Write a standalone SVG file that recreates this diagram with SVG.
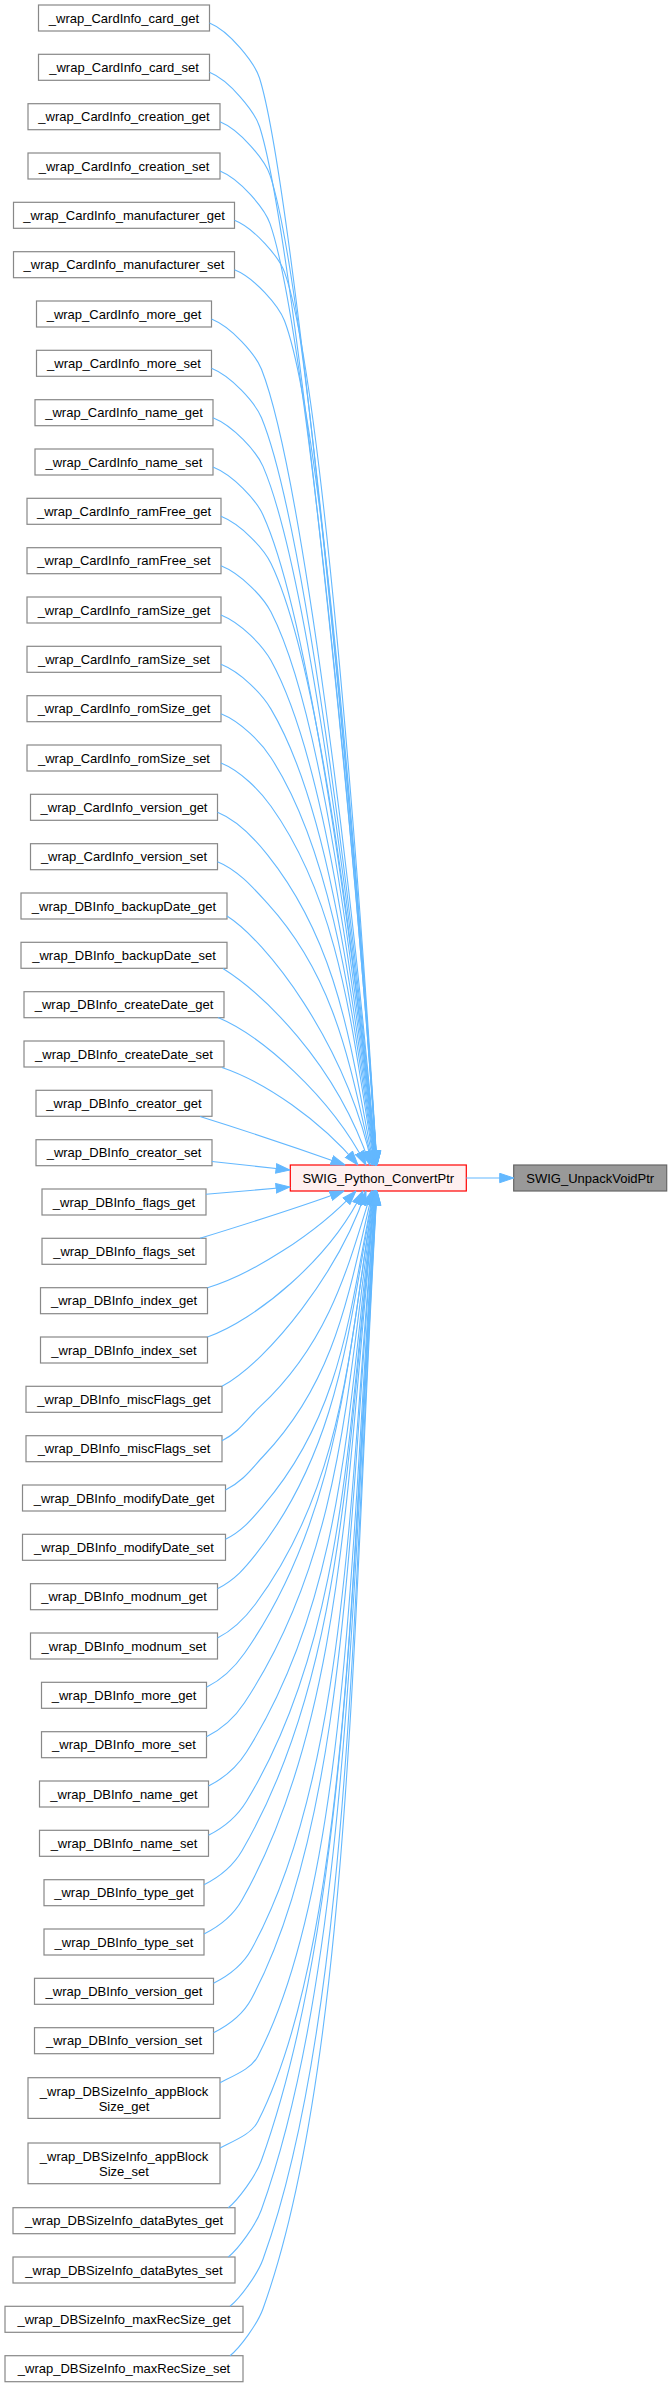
<svg xmlns="http://www.w3.org/2000/svg" width="672" height="2387" viewBox="0 0 672 2387">
<defs>
<style>
text{font-family:"Liberation Sans",Arial,Helvetica,sans-serif;font-size:13px;fill:#000000;text-anchor:middle}
.box{fill:#ffffff;stroke:#888888;stroke-width:1.2}
.cur{fill:#fff0f0;stroke:#ff0000;stroke-width:1.2}
.leaf{fill:#999999;stroke:#666666;stroke-width:1.2}
.e{fill:none;stroke:#63b8ff;stroke-width:1.1;marker-end:url(#ah)}
</style>
<marker id="ah" markerUnits="userSpaceOnUse" markerWidth="15" markerHeight="11" viewBox="0 0 15 11" refX="14.5" refY="5.5" orient="auto">
<path d="M0.5,0.8 L14.5,5.5 L0.5,10.2 z" fill="#63b8ff" stroke="#63b8ff" stroke-width="1"/>
</marker>
</defs>
<rect width="672" height="2387" fill="#ffffff"/>
<g id="n1"><rect class="box" x="38.5" y="5" width="171" height="26"/><text x="124" y="22.5">_wrap_CardInfo_card_get</text></g>
<g id="n2"><rect class="box" x="38.5" y="54.3" width="171" height="26"/><text x="124" y="71.8">_wrap_CardInfo_card_set</text></g>
<g id="n3"><rect class="box" x="28" y="103.7" width="192" height="26"/><text x="124" y="121.2">_wrap_CardInfo_creation_get</text></g>
<g id="n4"><rect class="box" x="28" y="153" width="192" height="26"/><text x="124" y="170.5">_wrap_CardInfo_creation_set</text></g>
<g id="n5"><rect class="box" x="13.5" y="202.3" width="221" height="26"/><text x="124" y="219.8">_wrap_CardInfo_manufacturer_get</text></g>
<g id="n6"><rect class="box" x="13.5" y="251.7" width="221" height="26"/><text x="124" y="269.2">_wrap_CardInfo_manufacturer_set</text></g>
<g id="n7"><rect class="box" x="36.5" y="301" width="175" height="26"/><text x="124" y="318.5">_wrap_CardInfo_more_get</text></g>
<g id="n8"><rect class="box" x="36.5" y="350.3" width="175" height="26"/><text x="124" y="367.8">_wrap_CardInfo_more_set</text></g>
<g id="n9"><rect class="box" x="35" y="399.7" width="178" height="26"/><text x="124" y="417.2">_wrap_CardInfo_name_get</text></g>
<g id="n10"><rect class="box" x="35" y="449" width="178" height="26"/><text x="124" y="466.5">_wrap_CardInfo_name_set</text></g>
<g id="n11"><rect class="box" x="27" y="498.3" width="194" height="26"/><text x="124" y="515.8">_wrap_CardInfo_ramFree_get</text></g>
<g id="n12"><rect class="box" x="27" y="547.7" width="194" height="26"/><text x="124" y="565.2">_wrap_CardInfo_ramFree_set</text></g>
<g id="n13"><rect class="box" x="27" y="597" width="194" height="26"/><text x="124" y="614.5">_wrap_CardInfo_ramSize_get</text></g>
<g id="n14"><rect class="box" x="27" y="646.3" width="194" height="26"/><text x="124" y="663.8">_wrap_CardInfo_ramSize_set</text></g>
<g id="n15"><rect class="box" x="27" y="695.7" width="194" height="26"/><text x="124" y="713.2">_wrap_CardInfo_romSize_get</text></g>
<g id="n16"><rect class="box" x="27" y="745" width="194" height="26"/><text x="124" y="762.5">_wrap_CardInfo_romSize_set</text></g>
<g id="n17"><rect class="box" x="30.5" y="794.3" width="187" height="26"/><text x="124" y="811.8">_wrap_CardInfo_version_get</text></g>
<g id="n18"><rect class="box" x="30.5" y="843.7" width="187" height="26"/><text x="124" y="861.2">_wrap_CardInfo_version_set</text></g>
<g id="n19"><rect class="box" x="21" y="893" width="206" height="26"/><text x="124" y="910.5">_wrap_DBInfo_backupDate_get</text></g>
<g id="n20"><rect class="box" x="21" y="942.3" width="206" height="26"/><text x="124" y="959.8">_wrap_DBInfo_backupDate_set</text></g>
<g id="n21"><rect class="box" x="24" y="991.7" width="200" height="26"/><text x="124" y="1009.2">_wrap_DBInfo_createDate_get</text></g>
<g id="n22"><rect class="box" x="24" y="1041" width="200" height="26"/><text x="124" y="1058.5">_wrap_DBInfo_createDate_set</text></g>
<g id="n23"><rect class="box" x="36" y="1090.3" width="176" height="26"/><text x="124" y="1107.8">_wrap_DBInfo_creator_get</text></g>
<g id="n24"><rect class="box" x="36" y="1139.7" width="176" height="26"/><text x="124" y="1157.2">_wrap_DBInfo_creator_set</text></g>
<g id="n25"><rect class="box" x="42" y="1189" width="164" height="26"/><text x="124" y="1206.5">_wrap_DBInfo_flags_get</text></g>
<g id="n26"><rect class="box" x="42" y="1238.3" width="164" height="26"/><text x="124" y="1255.8">_wrap_DBInfo_flags_set</text></g>
<g id="n27"><rect class="box" x="40.5" y="1287.7" width="167" height="26"/><text x="124" y="1305.2">_wrap_DBInfo_index_get</text></g>
<g id="n28"><rect class="box" x="40.5" y="1337" width="167" height="26"/><text x="124" y="1354.5">_wrap_DBInfo_index_set</text></g>
<g id="n29"><rect class="box" x="26" y="1386.3" width="196" height="26"/><text x="124" y="1403.8">_wrap_DBInfo_miscFlags_get</text></g>
<g id="n30"><rect class="box" x="26" y="1435.7" width="196" height="26"/><text x="124" y="1453.2">_wrap_DBInfo_miscFlags_set</text></g>
<g id="n31"><rect class="box" x="22.5" y="1485" width="203" height="26"/><text x="124" y="1502.5">_wrap_DBInfo_modifyDate_get</text></g>
<g id="n32"><rect class="box" x="22.5" y="1534.3" width="203" height="26"/><text x="124" y="1551.8">_wrap_DBInfo_modifyDate_set</text></g>
<g id="n33"><rect class="box" x="30.5" y="1583.7" width="187" height="26"/><text x="124" y="1601.2">_wrap_DBInfo_modnum_get</text></g>
<g id="n34"><rect class="box" x="30.5" y="1633" width="187" height="26"/><text x="124" y="1650.5">_wrap_DBInfo_modnum_set</text></g>
<g id="n35"><rect class="box" x="41.5" y="1682.3" width="165" height="26"/><text x="124" y="1699.8">_wrap_DBInfo_more_get</text></g>
<g id="n36"><rect class="box" x="41.5" y="1731.7" width="165" height="26"/><text x="124" y="1749.2">_wrap_DBInfo_more_set</text></g>
<g id="n37"><rect class="box" x="39.5" y="1781" width="169" height="26"/><text x="124" y="1798.5">_wrap_DBInfo_name_get</text></g>
<g id="n38"><rect class="box" x="39.5" y="1830.3" width="169" height="26"/><text x="124" y="1847.8">_wrap_DBInfo_name_set</text></g>
<g id="n39"><rect class="box" x="44" y="1879.7" width="160" height="26"/><text x="124" y="1897.2">_wrap_DBInfo_type_get</text></g>
<g id="n40"><rect class="box" x="44" y="1929" width="160" height="26"/><text x="124" y="1946.5">_wrap_DBInfo_type_set</text></g>
<g id="n41"><rect class="box" x="34.5" y="1978.3" width="179" height="26"/><text x="124" y="1995.8">_wrap_DBInfo_version_get</text></g>
<g id="n42"><rect class="box" x="34.5" y="2027.7" width="179" height="26"/><text x="124" y="2045.2">_wrap_DBInfo_version_set</text></g>
<g id="n43"><rect class="box" x="28" y="2077.7" width="192" height="40.7"/><text x="124" y="2095.5">_wrap_DBSizeInfo_appBlock</text><text x="124" y="2110.5">Size_get</text></g>
<g id="n44"><rect class="box" x="28" y="2143" width="192" height="40.7"/><text x="124" y="2160.8">_wrap_DBSizeInfo_appBlock</text><text x="124" y="2175.8">Size_set</text></g>
<g id="n45"><rect class="box" x="13" y="2207.7" width="222" height="26"/><text x="124" y="2225.2">_wrap_DBSizeInfo_dataBytes_get</text></g>
<g id="n46"><rect class="box" x="13" y="2257" width="222" height="26"/><text x="124" y="2274.5">_wrap_DBSizeInfo_dataBytes_set</text></g>
<g id="n47"><rect class="box" x="5" y="2306.3" width="238" height="26"/><text x="124" y="2323.8">_wrap_DBSizeInfo_maxRecSize_get</text></g>
<g id="n48"><rect class="box" x="5" y="2355.7" width="238" height="26"/><text x="124" y="2373.2">_wrap_DBSizeInfo_maxRecSize_set</text></g>
<g id="center"><rect class="cur" x="290.3" y="1165" width="176" height="26"/><text x="378.3" y="1182.5">SWIG_Python_ConvertPtr</text></g>
<g id="unpack"><rect class="leaf" x="513.7" y="1165" width="153" height="26"/><text x="590.2" y="1182.5">SWIG_UnpackVoidPtr</text></g>
<g id="edges">
<path class="e" d="M466.3,1178 L513.7,1178"/>
<path class="e" d="M209.5,23 C229.5,31 254.7,63 259.5,78 C291.3,178 352.2,784.5 376.9,1165"/>
<path class="e" d="M209.5,72.3 C229.5,80.3 254.6,111.5 259.5,126.5 C292.3,226.5 352.2,801.5 376.8,1165"/>
<path class="e" d="M220,121.7 C240,129.7 264.9,160.1 270,175.1 C303.9,275.1 354.4,818.5 376.9,1165"/>
<path class="e" d="M220,171 C240,179 264.75,208.6 270,223.6 C305,323.6 354.4,835.5 376.8,1165"/>
<path class="e" d="M234.5,220.3 C254.5,228.3 279.1,257.1 284.5,272.1 C320.8,372.1 357.6,852.5 377,1165"/>
<path class="e" d="M234.5,269.7 C254.5,277.7 278.8,305.8 284.5,320.8 C322.3,420.8 357.5,869.5 376.9,1165"/>
<path class="e" d="M211.5,319 C231.5,327 255.6,354.3 261.5,369.3 C300.9,469.3 352.3,886.5 376.4,1165"/>
<path class="e" d="M211.5,368.3 C231.5,376.3 255.3,402.8 261.5,417.8 C302.7,517.8 352.2,903.5 376.3,1165"/>
<path class="e" d="M213,417.7 C233,425.7 256.5,451.4 263,466.4 C306.2,566.4 352.4,920.5 376.2,1165"/>
<path class="e" d="M213,467 C233,475 256.2,499.9 263,514.9 C308.6,614.9 352.3,937.5 376,1165"/>
<path class="e" d="M221,516.3 C241,524.3 263.8,548.5 271,563.5 C319.2,663.5 354,954.5 376,1165"/>
<path class="e" d="M221,565.7 C241,573.7 263.3,597.1 271,612.1 C322.4,712.1 353.8,971.5 375.8,1165"/>
<path class="e" d="M221,615 C241,623 262.8,645.6 271,660.6 C326,760.6 353.6,988.5 375.6,1165"/>
<path class="e" d="M221,664.3 C241,672.3 262.1,694.1 271,709.1 C330.4,809.1 353.4,1005.4 375.3,1165"/>
<path class="e" d="M221,713.7 C241,721.7 261.3,742.7 271,757.7 C335.8,857.7 353.2,1022.4 375,1165"/>
<path class="e" d="M221,763 C241,771 260.3,791.3 271,806.3 C342.4,906.3 352.8,1039.5 374.5,1165"/>
<path class="e" d="M217.5,812.3 C237.5,820.3 255.5,839.8 267.5,854.8 C341.8,947.8 351.5,1056.4 373.8,1165"/>
<path class="e" d="M217.5,861.7 C237.5,869.7 253.8,888.4 267.5,903.4 C339,981.9 350.9,1073.4 373.1,1165"/>
<path class="e" d="M227,916 C265,940 345,1040 372,1165"/>
<path class="e" d="M223,968.5 C260,992 335,1060 370,1165"/>
<path class="e" d="M218,1017.5 C260,1035 330,1095 366,1165"/>
<path class="e" d="M222,1067.5 C265,1082 320,1120 358,1165"/>
<path class="e" d="M200,1116.5 C240,1129 300,1149 345,1165"/>
<path class="e" d="M212,1161.5 L290,1170"/>
<path class="e" d="M206,1194.3 L290,1187"/>
<path class="e" d="M200,1238.3 C240,1226 300,1207 344,1191"/>
<path class="e" d="M207.5,1287.7 C250,1275 315,1235 356,1191"/>
<path class="e" d="M207.5,1337 C255,1320 330,1260 363,1191"/>
<path class="e" d="M222,1386.3 C270,1360 340,1270 366,1191"/>
<path class="e" d="M222,1440.7 C240,1431.7 247.1,1418.7 260,1406.7 C329.6,1342 348.2,1266.5 371.6,1191"/>
<path class="e" d="M225.5,1490 C243.5,1481 252.1,1468 263.5,1456 C339.1,1376.5 349.9,1283.8 372.9,1191"/>
<path class="e" d="M225.5,1539.3 C243.5,1530.3 253.2,1517.3 263.5,1505.3 C344.7,1411 350.6,1301 373.7,1191"/>
<path class="e" d="M217.5,1588.7 C235.5,1579.7 246,1566.7 255.5,1554.7 C342,1445.6 349.2,1318.3 374.1,1191"/>
<path class="e" d="M217.5,1638 C235.5,1629 246.6,1616 255.5,1604 C347.2,1480.1 349.5,1335.6 374.5,1191"/>
<path class="e" d="M206.5,1687.3 C224.5,1678.3 236.1,1665.3 244.5,1653.3 C341.2,1514.6 347.3,1352.8 374.6,1191"/>
<path class="e" d="M206.5,1736.7 C224.5,1727.7 236.6,1714.7 244.5,1702.7 C346,1549.2 347.6,1370.1 375,1191"/>
<path class="e" d="M208.5,1786 C226.5,1777 238.9,1764 246.5,1752 C349.5,1589 348.2,1387.4 375.3,1191"/>
<path class="e" d="M208.5,1835.3 C226.5,1826.3 239.2,1813.3 246.5,1801.3 C349.7,1631.3 348.4,1404.6 375.5,1191"/>
<path class="e" d="M204,1884.7 C222,1875.7 235,1862.7 242,1850.7 C348.9,1667.9 347.6,1421.9 375.7,1191"/>
<path class="e" d="M204,1934 C222,1925 235.2,1912 242,1900 C349,1710.9 347.8,1439.2 375.8,1191"/>
<path class="e" d="M213.5,1983.3 C231.5,1974.3 244.9,1961.3 251.5,1949.3 C351.3,1767.9 350,1456.4 376.2,1191"/>
<path class="e" d="M213.5,2032.7 C231.5,2023.7 245.1,2010.7 251.5,1998.7 C351.3,1812.1 350.1,1473.7 376.3,1191"/>
<path class="e" d="M220,2082.7 C238,2073.7 251.8,2068 258,2056 C352.8,1873.7 351.7,1493.8 376.5,1191"/>
<path class="e" d="M220,2148 C238,2139 251.9,2133.3 258,2121.3 C352.9,1933.8 351.7,1516.6 376.6,1191"/>
<path class="e" d="M228.3,2207.7 C238.3,2199.7 255.9,2175.7 261.3,2160.7 C351.3,1910.7 352.5,1530.4 376.8,1191"/>
<path class="e" d="M228.3,2257 C238.3,2249 255.9,2225 261.3,2210 C351.3,1960 352.5,1547.7 376.8,1191"/>
<path class="e" d="M230,2306.3 C240,2298.3 257.6,2274.3 263,2259.3 C353,2009.3 353,1564.9 376.9,1191"/>
<path class="e" d="M230,2355.7 C240,2347.7 257.6,2323.7 263,2308.7 C353,2058.7 353.1,1582.2 377,1191"/>
</g>
</svg>
